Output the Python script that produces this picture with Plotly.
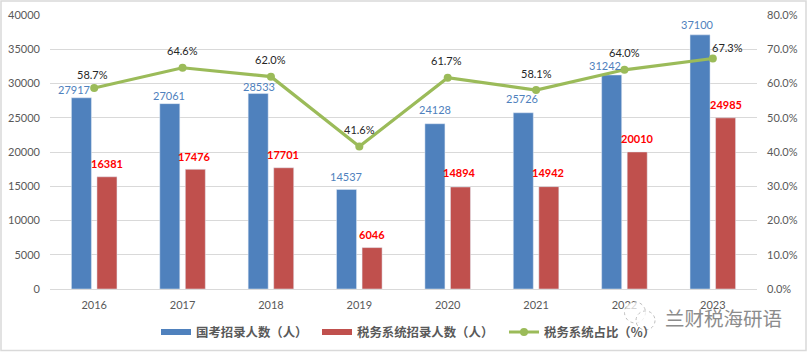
import plotly.graph_objects as go

years = ["2016", "2017", "2018", "2019", "2020", "2021", "2022", "2023"]
national = [27917, 27061, 28533, 14537, 24128, 25726, 31242, 37100]
tax = [16381, 17476, 17701, 6046, 14894, 14942, 20010, 24985]
share = [0.587, 0.646, 0.620, 0.416, 0.617, 0.581, 0.640, 0.673]

series_names = ["国考招录人数（人）", "税务系统招录人数（人）", "税务系统占比（%）"]
watermark = "兰财税海研语"

blue_dx = [-7, -1, 1, 0, 0, -1, -6, -2]
blue_dy = [8, 8, 7, 13, 14, 14, 9, 10]
red_dx = [0, -1, -1, 0, -1, -1, 0, 0]
red_dy = [13, 13, 13, 13, 14, 14, 13, 13]
line_dx = [-2, 0, 0, 0, -1, 0, 0, 15]
line_dy = [13, 17, 17, 17, 17, 17, 17, 11]

W, H = 807, 352
L, R, T, B = 50, 757, 15, 289.5
NUM = "Lato, 'Open Sans', sans-serif"
CJK = "'Noto Sans CJK SC', sans-serif"
BLUE, RED, GREEN = "#4f81bd", "#c0504d", "#9bbb59"
LABEL = 11


def px(v):
    return (v - L) / (R - L)


def py(v):
    return (B - v) / (B - T)


def legend_at(x):
    return dict(orientation="h", x=px(x), xanchor="left", y=py(333), yanchor="middle",
                font=dict(size=12.4, color="#595959", family=CJK, weight=700),
                bgcolor="rgba(0,0,0,0)", itemwidth=30)


fig = go.Figure()
fig.add_bar(x=years, y=national, name=series_names[0], marker_color=BLUE, yaxis="y", showlegend=False)
fig.add_bar(x=years, y=tax, name=series_names[1], marker_color=RED, yaxis="y", showlegend=False)
fig.add_scatter(x=[None], y=[None], name=series_names[0], mode="lines", line=dict(color=BLUE, width=6), legend="legend")
fig.add_scatter(x=[None], y=[None], name=series_names[1], mode="lines", line=dict(color=RED, width=6), legend="legend2")
fig.add_scatter(x=years, y=share, name=series_names[2], yaxis="y2", mode="lines+markers", legend="legend3",
                line=dict(color=GREEN, width=3.2), marker=dict(color=GREEN, size=8))

ann = []
for i, y in enumerate(years):
    ann.append(dict(x=i, y=national[i], xref="x", yref="y", text=str(national[i]), showarrow=False,
                    xshift=-13 + blue_dx[i], yshift=blue_dy[i], font=dict(color=BLUE, size=LABEL, family=NUM)))
    ann.append(dict(x=i, y=tax[i], xref="x", yref="y", text=f"<b>{tax[i]}</b>", showarrow=False,
                    xshift=13 + red_dx[i], yshift=red_dy[i], font=dict(color="#ff0000", size=LABEL, family=NUM)))
    ann.append(dict(x=i, y=share[i], xref="x", yref="y2", text=f"{share[i]*100:.1f}%", showarrow=False,
                    xshift=line_dx[i], yshift=line_dy[i], font=dict(color="#262626", size=LABEL, family=NUM)))
ann.append(dict(x=px(784), y=py(318), xref="paper", yref="paper", xanchor="right", yanchor="middle",
                text=watermark, showarrow=False, font=dict(color="#8c8c8c", size=19.5, family=CJK)))


def bubble(cx, cy, r):
    return dict(type="circle", xref="paper", yref="paper", x0=px(cx - r), x1=px(cx + r),
                y0=py(cy + r), y1=py(cy - r), fillcolor="rgba(255,255,255,0.75)",
                line=dict(color="#bfbfbf", width=1, dash="dot"), layer="above")


shapes = [
    dict(type="rect", xref="paper", yref="paper", x0=px(1), x1=px(W - 1), y0=py(H - 1), y1=py(1),
         line=dict(color="#d9d9d9", width=1.5), fillcolor="rgba(0,0,0,0)"),
    bubble(635, 313, 10.5),
    bubble(645.5, 321, 9.5),
]

fig.update_layout(
    width=W, height=H, autosize=False, paper_bgcolor="white", plot_bgcolor="white",
    margin=dict(l=L, r=W - R, t=T, b=H - B, autoexpand=False),
    barmode="group", bargap=0.422, bargroupgap=0.216,
    showlegend=True,
    legend=legend_at(156), legend2=legend_at(317), legend3=legend_at(504),
    xaxis=dict(type="category", range=[-0.5, 7.5], showgrid=False, showline=True, linecolor="#d9d9d9", linewidth=1,
               ticks="", ticklabelstandoff=6, tickfont=dict(size=LABEL, color="#595959", family=NUM), automargin=False),
    yaxis=dict(range=[0, 40000], dtick=5000, tickformat="d", gridcolor="#d9d9d9", gridwidth=1, zeroline=False,
               ticklabelstandoff=9, showline=False, tickfont=dict(size=LABEL, color="#595959", family=NUM),
               automargin=False),
    yaxis2=dict(range=[0, 0.8], dtick=0.1, overlaying="y", side="right", tickformat=".1%", showgrid=False,
                zeroline=False, showline=False, ticklabelstandoff=9,
                tickfont=dict(size=LABEL, color="#595959", family=NUM), automargin=False),
    annotations=ann, shapes=shapes,
)
fig.write_html("out.html", post_script="document.body.style.margin='0';", config=dict(displayModeBar=False))
